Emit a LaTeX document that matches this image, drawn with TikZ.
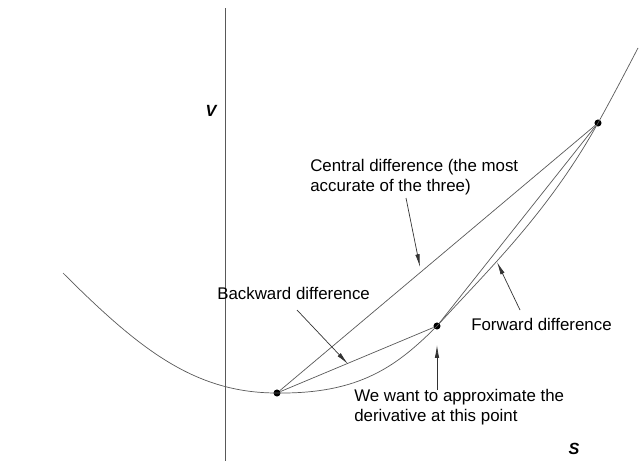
\documentclass[tikz,border=0pt]{standalone}
\usepackage{fontspec}
\setmainfont{Liberation Sans}
\usetikzlibrary{arrows.meta,positioning}

\begin{document}
\begin{tikzpicture}[
    x=0.025cm, y=-0.025cm,
    curve/.style={draw=black!65, line width=0.5pt},
    chord/.style={draw=black!65, line width=0.5pt},
    pointer/.style={draw=black!80, line width=0.5pt, -{Latex[length=3.2mm,width=1.1mm]}},
    dot/.style={circle, fill=black, inner sep=0pt, minimum size=5pt},
    label/.style={align=left, font=\fontsize{12}{14.2}\selectfont, inner sep=0pt, anchor=west},
    axislabel/.style={font=\fontsize{11.5}{13}\selectfont\bfseries\itshape, inner sep=0pt}
]
\useasboundingbox (0,0) rectangle (640,461);

% Axis
\coordinate (axtop) at (225,8);
\coordinate (axbot) at (225,461);
\draw[curve] (axtop) -- (axbot);
\node[axislabel] (vlabel) at (211,111) {V};
\node[axislabel] (slabel) at (574,449) {S};

% Points
\node[dot] (back) at (277,393) {};
\node[dot] (mid) at (437,326) {};
\node[dot] (fwd) at (598,123) {};
\coordinate (curvestart) at (63,273);
\coordinate (curveend) at (638,48);

% Function
\draw[curve] (curvestart) .. controls (140,350) and (195,393) .. (back.center)
    .. controls (360,394) and (397,366) .. (mid.center)
    .. controls (487,271) and (548,213) .. (fwd.center)
    .. controls (613,96) and (626,71) .. (curveend);

% Differences
\draw[chord] (back) -- (mid);
\draw[chord] (mid) -- (fwd);
\draw[chord] (back) -- (fwd);

% Labels
\node[label] (central) at (310,177) {Central difference (the most\\accurate of the three)};
\node[label] (backward) at (217,293) {Backward difference};
\node[label] (forward) at (471,324) {Forward difference};
\node[label] (target) at (354,407) {We want to approximate the\\derivative at this point};

% Pointers
\coordinate (centraltail) at (406,198);
\coordinate (centraltip) at (420,267);
\coordinate (backtail) at (297,310);
\coordinate (backtip) at (348,364);
\coordinate (fwdtail) at (520,310);
\coordinate (fwdtip) at (497,262);
\coordinate (midtail) at (437,390);
\coordinate (midtip) at (437,345);
\draw[pointer] (centraltail) -- (centraltip);
\draw[pointer] (backtail) -- (backtip);
\draw[pointer] (fwdtail) -- (fwdtip);
\draw[pointer] (midtail) -- (midtip);

\end{tikzpicture}
\end{document}
